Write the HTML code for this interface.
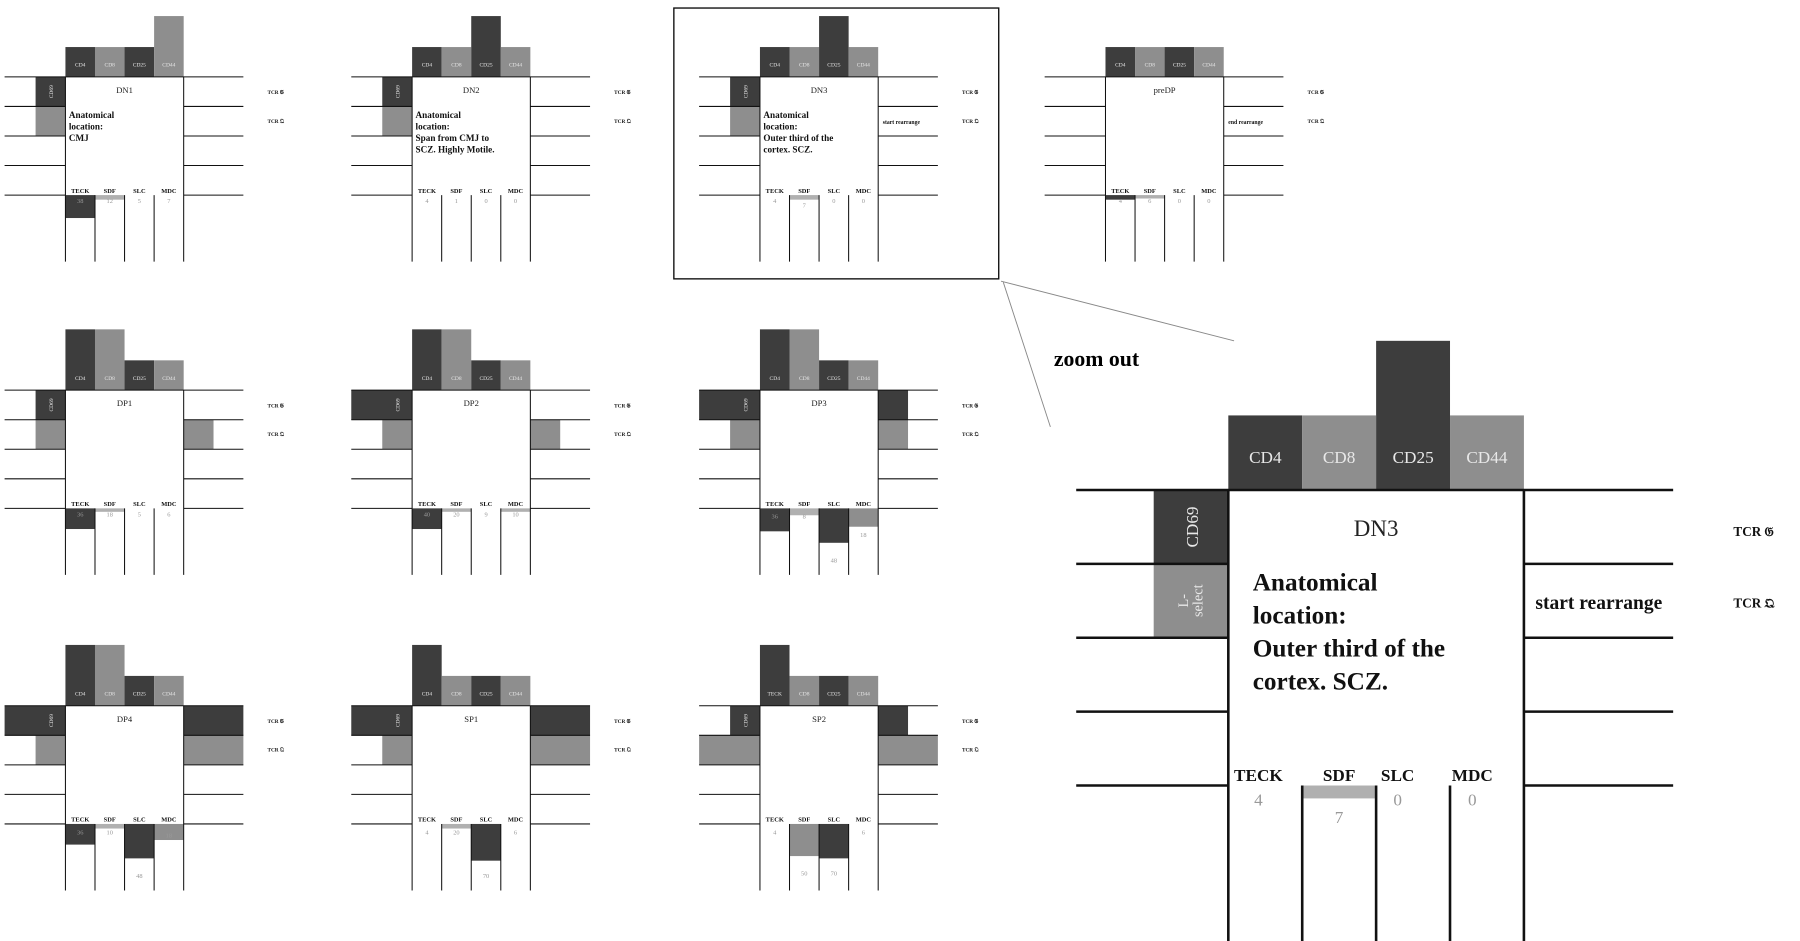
<!DOCTYPE html>
<html><head><meta charset="utf-8"><style>
html,body{margin:0;padding:0;background:#fff;width:1800px;height:941px;overflow:hidden}
svg{display:block}
text{font-family:"Liberation Serif",serif}
.ln{stroke:#111;stroke-width:0.9;fill:none}
.bl{fill:#e8e8e8;font-size:4.8px;text-anchor:middle}
.tt{font-size:7.5px;text-anchor:middle;fill:#222}
.an{font-size:8px;font-weight:bold;fill:#111}
.bt{font-size:5.6px;font-weight:bold;text-anchor:middle;fill:#111}
.nm{font-size:5.6px;text-anchor:middle;fill:#999}
.tc{font-size:4.6px;font-weight:bold;fill:#111}
.sr{font-size:6.8px;font-weight:bold;fill:#111}
.D{fill:#3d3d3d}.M{fill:#8e8e8e}.L{fill:#b0b0b0}
</style></head><body>
<svg width="1800" height="941" viewBox="0 0 1568 820" preserveAspectRatio="none" xmlns="http://www.w3.org/2000/svg">
<defs>
<path id="sk" class="ln" d="M-53 0H0M-53 25.75H0M-53 51.5H0M-53 77.25H0M-53 103H0M103 0H155M103 25.75H155M103 51.5H155M103 77.25H155M103 103H155M0 0V161M103 0V161M25.75 103V161M51.5 103V161M77.25 103V161M0 0H103"/>
</defs>

<!-- zoom frame -->
<rect x="587" y="7" width="283" height="236" fill="none" stroke="#111" stroke-width="1.2"/>
<path d="M872 245L1075 297M874 246L915 372" stroke="#888" stroke-width="0.8" fill="none"/>
<text x="918" y="319" style="font-size:19px;font-weight:bold;font-family:'Liberation Serif',serif">zoom out</text>

<!-- DN1 -->
<g transform="translate(57,67)">
<rect class="D" x="0" y="-26" width="25.75" height="26"/><rect class="M" x="25.75" y="-26" width="25.75" height="26"/><rect class="D" x="51.5" y="-26" width="25.75" height="26"/><rect class="M" x="77.25" y="-53" width="25.75" height="53"/>
<rect class="D" x="-26" y="0" width="26" height="25.75"/><rect class="M" x="-26" y="25.75" width="26" height="25.75"/>
<rect class="D" x="0" y="103" width="25.75" height="20"/><rect class="L" x="25.75" y="103" width="25.75" height="4"/>
<use href="#sk"/>
<text class="bl" x="12.9" y="-9">CD4</text><text class="bl" x="38.6" y="-9">CD8</text><text class="bl" x="64.4" y="-9">CD25</text><text class="bl" x="90.1" y="-9">CD44</text>
<text class="bl" transform="translate(-11,12.9) rotate(-90)">CD69</text>
<text class="tt" x="51.5" y="14">DN1</text>
<text class="an" x="3" y="36">Anatomical</text><text class="an" x="3" y="46">location:</text><text class="an" x="3" y="56">CMJ</text>
<text class="bt" x="12.9" y="101">TECK</text><text class="bt" x="38.6" y="101">SDF</text><text class="bt" x="64.4" y="101">SLC</text><text class="bt" x="90.1" y="101">MDC</text>
<text class="nm" x="12.9" y="110" fill="#ddd">38</text><text class="nm" x="38.6" y="110">12</text><text class="nm" x="64.4" y="110">5</text><text class="nm" x="90.1" y="110">7</text>
<text class="tc" x="176" y="15">TCR 𝔊</text><text class="tc" x="176" y="40">TCR 𝔔</text>
</g>

<!-- DN2 -->
<g transform="translate(359,67)">
<rect class="D" x="0" y="-26" width="25.75" height="26"/><rect class="M" x="25.75" y="-26" width="25.75" height="26"/><rect class="D" x="51.5" y="-53" width="25.75" height="53"/><rect class="M" x="77.25" y="-26" width="25.75" height="26"/>
<rect class="D" x="-26" y="0" width="26" height="25.75"/><rect class="M" x="-26" y="25.75" width="26" height="25.75"/>
<use href="#sk"/>
<text class="bl" x="12.9" y="-9">CD4</text><text class="bl" x="38.6" y="-9">CD8</text><text class="bl" x="64.4" y="-9">CD25</text><text class="bl" x="90.1" y="-9">CD44</text>
<text class="bl" transform="translate(-11,12.9) rotate(-90)">CD69</text>
<text class="tt" x="51.5" y="14">DN2</text>
<text class="an" x="3" y="36">Anatomical</text><text class="an" x="3" y="46">location:</text><text class="an" x="3" y="56">Span from CMJ to</text><text class="an" x="3" y="66">SCZ. Highly Motile.</text>
<text class="bt" x="12.9" y="101">TECK</text><text class="bt" x="38.6" y="101">SDF</text><text class="bt" x="64.4" y="101">SLC</text><text class="bt" x="90.1" y="101">MDC</text>
<text class="nm" x="12.9" y="110">4</text><text class="nm" x="38.6" y="110">1</text><text class="nm" x="64.4" y="110">0</text><text class="nm" x="90.1" y="110">0</text>
<text class="tc" x="176" y="15">TCR 𝔊</text><text class="tc" x="176" y="40">TCR 𝔔</text>
</g>

<!-- DN3 small -->
<g transform="translate(662,67)">
<rect class="D" x="0" y="-26" width="25.75" height="26"/><rect class="M" x="25.75" y="-26" width="25.75" height="26"/><rect class="D" x="51.5" y="-53" width="25.75" height="53"/><rect class="M" x="77.25" y="-26" width="25.75" height="26"/>
<rect class="D" x="-26" y="0" width="26" height="25.75"/><rect class="M" x="-26" y="25.75" width="26" height="25.75"/>
<rect class="L" x="25.75" y="103" width="25.75" height="4"/>
<use href="#sk"/>
<text class="bl" x="12.9" y="-9">CD4</text><text class="bl" x="38.6" y="-9">CD8</text><text class="bl" x="64.4" y="-9">CD25</text><text class="bl" x="90.1" y="-9">CD44</text>
<text class="bl" transform="translate(-11,12.9) rotate(-90)">CD69</text>
<text class="tt" x="51.5" y="14">DN3</text>
<text class="an" x="3" y="36">Anatomical</text><text class="an" x="3" y="46">location:</text><text class="an" x="3" y="56">Outer third of the</text><text class="an" x="3" y="66">cortex. SCZ.</text>
<text class="bt" x="12.9" y="101">TECK</text><text class="bt" x="38.6" y="101">SDF</text><text class="bt" x="64.4" y="101">SLC</text><text class="bt" x="90.1" y="101">MDC</text>
<text class="nm" x="12.9" y="110">4</text><text class="nm" x="38.6" y="114">7</text><text class="nm" x="64.4" y="110">0</text><text class="nm" x="90.1" y="110">0</text>
<text class="sr" x="107" y="41" style="font-size:5px">start rearrange</text>
<text class="tc" x="176" y="15">TCR 𝔊</text><text class="tc" x="176" y="40">TCR 𝔔</text>
</g>

<!-- preDP -->
<g transform="translate(963,67)">
<rect class="D" x="0" y="-26" width="25.75" height="26"/><rect class="M" x="25.75" y="-26" width="25.75" height="26"/><rect class="D" x="51.5" y="-26" width="25.75" height="26"/><rect class="M" x="77.25" y="-26" width="25.75" height="26"/>
<rect class="D" x="0" y="103" width="25.75" height="4"/><rect class="L" x="25.75" y="103" width="25.75" height="3"/>
<use href="#sk"/>
<text class="bl" x="12.9" y="-9">CD4</text><text class="bl" x="38.6" y="-9">CD8</text><text class="bl" x="64.4" y="-9">CD25</text><text class="bl" x="90.1" y="-9">CD44</text>
<text class="tt" x="51.5" y="14">preDP</text>
<text class="bt" x="12.9" y="101">TECK</text><text class="bt" x="38.6" y="101">SDF</text><text class="bt" x="64.4" y="101">SLC</text><text class="bt" x="90.1" y="101">MDC</text>
<text class="nm" x="12.9" y="110">4</text><text class="nm" x="38.6" y="110">6</text><text class="nm" x="64.4" y="110">0</text><text class="nm" x="90.1" y="110">0</text>
<text class="sr" x="107" y="41" style="font-size:5px">end rearrange</text>
<text class="tc" x="176" y="15">TCR 𝔊</text><text class="tc" x="176" y="40">TCR 𝔔</text>
</g>

<!-- DP1 -->
<g transform="translate(57,340)">
<rect class="D" x="0" y="-53" width="25.75" height="53"/><rect class="M" x="25.75" y="-53" width="25.75" height="53"/><rect class="D" x="51.5" y="-26" width="25.75" height="26"/><rect class="M" x="77.25" y="-26" width="25.75" height="26"/>
<rect class="D" x="-26" y="0" width="26" height="25.75"/><rect class="M" x="-26" y="25.75" width="26" height="25.75"/>
<rect class="M" x="103" y="25.75" width="26" height="25.75"/>
<rect class="D" x="0" y="103" width="25.75" height="18"/><rect class="L" x="25.75" y="103" width="25.75" height="3"/>
<use href="#sk"/>
<text class="bl" x="12.9" y="-9">CD4</text><text class="bl" x="38.6" y="-9">CD8</text><text class="bl" x="64.4" y="-9">CD25</text><text class="bl" x="90.1" y="-9">CD44</text>
<text class="bl" transform="translate(-11,12.9) rotate(-90)">CD69</text>
<text class="tt" x="51.5" y="14">DP1</text>
<text class="bt" x="12.9" y="101">TECK</text><text class="bt" x="38.6" y="101">SDF</text><text class="bt" x="64.4" y="101">SLC</text><text class="bt" x="90.1" y="101">MDC</text>
<text class="nm" x="12.9" y="110" fill="#ddd">36</text><text class="nm" x="38.6" y="110">18</text><text class="nm" x="64.4" y="110">5</text><text class="nm" x="90.1" y="110">6</text>
<text class="tc" x="176" y="15">TCR 𝔊</text><text class="tc" x="176" y="40">TCR 𝔔</text>
</g>

<!-- DP2 -->
<g transform="translate(359,340)">
<rect class="D" x="0" y="-53" width="25.75" height="53"/><rect class="M" x="25.75" y="-53" width="25.75" height="53"/><rect class="D" x="51.5" y="-26" width="25.75" height="26"/><rect class="M" x="77.25" y="-26" width="25.75" height="26"/>
<rect class="D" x="-53" y="0" width="53" height="25.75"/><rect class="M" x="-26" y="25.75" width="26" height="25.75"/>
<rect class="M" x="103" y="25.75" width="26" height="25.75"/>
<rect class="D" x="0" y="103" width="25.75" height="18"/><rect class="L" x="25.75" y="103" width="25.75" height="3"/><rect class="L" x="77.25" y="103" width="25.75" height="3"/>
<use href="#sk"/>
<text class="bl" x="12.9" y="-9">CD4</text><text class="bl" x="38.6" y="-9">CD8</text><text class="bl" x="64.4" y="-9">CD25</text><text class="bl" x="90.1" y="-9">CD44</text>
<text class="bl" transform="translate(-11,12.9) rotate(-90)">CD69</text>
<text class="tt" x="51.5" y="14">DP2</text>
<text class="bt" x="12.9" y="101">TECK</text><text class="bt" x="38.6" y="101">SDF</text><text class="bt" x="64.4" y="101">SLC</text><text class="bt" x="90.1" y="101">MDC</text>
<text class="nm" x="12.9" y="110" fill="#ddd">40</text><text class="nm" x="38.6" y="110">20</text><text class="nm" x="64.4" y="110">9</text><text class="nm" x="90.1" y="110">10</text>
<text class="tc" x="176" y="15">TCR 𝔊</text><text class="tc" x="176" y="40">TCR 𝔔</text>
</g>

<!-- DP3 -->
<g transform="translate(662,340)">
<rect class="D" x="0" y="-53" width="25.75" height="53"/><rect class="M" x="25.75" y="-53" width="25.75" height="53"/><rect class="D" x="51.5" y="-26" width="25.75" height="26"/><rect class="M" x="77.25" y="-26" width="25.75" height="26"/>
<rect class="D" x="-53" y="0" width="53" height="25.75"/><rect class="M" x="-26" y="25.75" width="26" height="25.75"/>
<rect class="D" x="103" y="0" width="26" height="25.75"/><rect class="M" x="103" y="25.75" width="26" height="25.75"/>
<rect class="D" x="0" y="103" width="25.75" height="20"/><rect class="L" x="25.75" y="103" width="25.75" height="6"/><rect class="D" x="51.5" y="103" width="25.75" height="30"/><rect class="M" x="77.25" y="103" width="25.75" height="16"/>
<use href="#sk"/>
<text class="bl" x="12.9" y="-9">CD4</text><text class="bl" x="38.6" y="-9">CD8</text><text class="bl" x="64.4" y="-9">CD25</text><text class="bl" x="90.1" y="-9">CD44</text>
<text class="bl" transform="translate(-11,12.9) rotate(-90)">CD69</text>
<text class="tt" x="51.5" y="14">DP3</text>
<text class="bt" x="12.9" y="101">TECK</text><text class="bt" x="38.6" y="101">SDF</text><text class="bt" x="64.4" y="101">SLC</text><text class="bt" x="90.1" y="101">MDC</text>
<text class="nm" x="12.9" y="112" fill="#ddd">36</text><text class="nm" x="38.6" y="112">8</text><text class="nm" x="64.4" y="150">48</text><text class="nm" x="90.1" y="128">18</text>
<text class="tc" x="176" y="15">TCR 𝔊</text><text class="tc" x="176" y="40">TCR 𝔔</text>
</g>

<!-- DP4 -->
<g transform="translate(57,615)">
<rect class="D" x="0" y="-53" width="25.75" height="53"/><rect class="M" x="25.75" y="-53" width="25.75" height="53"/><rect class="D" x="51.5" y="-26" width="25.75" height="26"/><rect class="M" x="77.25" y="-26" width="25.75" height="26"/>
<rect class="D" x="-53" y="0" width="53" height="25.75"/><rect class="M" x="-26" y="25.75" width="26" height="25.75"/>
<rect class="D" x="103" y="0" width="52" height="25.75"/><rect class="M" x="103" y="25.75" width="52" height="25.75"/>
<rect class="D" x="0" y="103" width="25.75" height="18"/><rect class="L" x="25.75" y="103" width="25.75" height="4"/><rect class="D" x="51.5" y="103" width="25.75" height="30"/><rect class="M" x="77.25" y="103" width="25.75" height="14"/>
<use href="#sk"/>
<text class="bl" x="12.9" y="-9">CD4</text><text class="bl" x="38.6" y="-9">CD8</text><text class="bl" x="64.4" y="-9">CD25</text><text class="bl" x="90.1" y="-9">CD44</text>
<text class="bl" transform="translate(-11,12.9) rotate(-90)">CD69</text>
<text class="tt" x="51.5" y="14">DP4</text>
<text class="bt" x="12.9" y="101">TECK</text><text class="bt" x="38.6" y="101">SDF</text><text class="bt" x="64.4" y="101">SLC</text><text class="bt" x="90.1" y="101">MDC</text>
<text class="nm" x="12.9" y="112" fill="#ddd">36</text><text class="nm" x="38.6" y="112">10</text><text class="nm" x="64.4" y="150">48</text><text class="nm" x="90.1" y="115">18</text>
<text class="tc" x="176" y="15">TCR 𝔊</text><text class="tc" x="176" y="40">TCR 𝔔</text>
</g>

<!-- SP1 -->
<g transform="translate(359,615)">
<rect class="D" x="0" y="-53" width="25.75" height="53"/><rect class="M" x="25.75" y="-26" width="25.75" height="26"/><rect class="D" x="51.5" y="-26" width="25.75" height="26"/><rect class="M" x="77.25" y="-26" width="25.75" height="26"/>
<rect class="D" x="-53" y="0" width="53" height="25.75"/><rect class="M" x="-26" y="25.75" width="26" height="25.75"/>
<rect class="D" x="103" y="0" width="52" height="25.75"/><rect class="M" x="103" y="25.75" width="52" height="25.75"/>
<rect class="L" x="25.75" y="103" width="25.75" height="4"/><rect class="D" x="51.5" y="103" width="25.75" height="32"/>
<use href="#sk"/>
<text class="bl" x="12.9" y="-9">CD4</text><text class="bl" x="38.6" y="-9">CD8</text><text class="bl" x="64.4" y="-9">CD25</text><text class="bl" x="90.1" y="-9">CD44</text>
<text class="bl" transform="translate(-11,12.9) rotate(-90)">CD69</text>
<text class="tt" x="51.5" y="14">SP1</text>
<text class="bt" x="12.9" y="101">TECK</text><text class="bt" x="38.6" y="101">SDF</text><text class="bt" x="64.4" y="101">SLC</text><text class="bt" x="90.1" y="101">MDC</text>
<text class="nm" x="12.9" y="112">4</text><text class="nm" x="38.6" y="112">20</text><text class="nm" x="64.4" y="150">70</text><text class="nm" x="90.1" y="112">6</text>
<text class="tc" x="176" y="15">TCR 𝔊</text><text class="tc" x="176" y="40">TCR 𝔔</text>
</g>

<!-- SP2 -->
<g transform="translate(662,615)">
<rect class="D" x="0" y="-53" width="25.75" height="53"/><rect class="M" x="25.75" y="-26" width="25.75" height="26"/><rect class="D" x="51.5" y="-26" width="25.75" height="26"/><rect class="M" x="77.25" y="-26" width="25.75" height="26"/>
<rect class="D" x="-26" y="0" width="26" height="25.75"/><rect class="M" x="-53" y="25.75" width="53" height="25.75"/>
<rect class="D" x="103" y="0" width="26" height="25.75"/><rect class="M" x="103" y="25.75" width="52" height="25.75"/>
<rect class="M" x="25.75" y="103" width="25.75" height="28"/><rect class="D" x="51.5" y="103" width="25.75" height="30"/>
<use href="#sk"/>
<text class="bl" x="12.9" y="-9">TECK</text><text class="bl" x="38.6" y="-9">CD8</text><text class="bl" x="64.4" y="-9">CD25</text><text class="bl" x="90.1" y="-9">CD44</text>
<text class="bl" transform="translate(-11,12.9) rotate(-90)">CD69</text>
<text class="tt" x="51.5" y="14">SP2</text>
<text class="bt" x="12.9" y="101">TECK</text><text class="bt" x="38.6" y="101">SDF</text><text class="bt" x="64.4" y="101">SLC</text><text class="bt" x="90.1" y="101">MDC</text>
<text class="nm" x="12.9" y="112">4</text><text class="nm" x="38.6" y="148">50</text><text class="nm" x="64.4" y="148">70</text><text class="nm" x="90.1" y="112">6</text>
<text class="tc" x="176" y="15">TCR 𝔊</text><text class="tc" x="176" y="40">TCR 𝔔</text>
</g>

<!-- DN3 big -->
<g transform="translate(1070,427) scale(2.5)">
<rect class="D" x="0" y="-26" width="25.75" height="26"/><rect class="M" x="25.75" y="-26" width="25.75" height="26"/><rect class="D" x="51.5" y="-52" width="25.75" height="52"/><rect class="M" x="77.25" y="-26" width="25.75" height="26"/>
<rect class="D" x="-26" y="0" width="26" height="25.75"/><rect class="M" x="-26" y="25.75" width="26" height="25.75"/>
<rect class="L" x="25.75" y="103" width="25.75" height="4.5"/>
<use href="#sk" transform="scale(1)" style="stroke-width:0.8"/>
<text class="bl" x="12.9" y="-9.5" style="font-size:6px">CD4</text><text class="bl" x="38.6" y="-9.5" style="font-size:6px">CD8</text><text class="bl" x="64.4" y="-9.5" style="font-size:6px">CD25</text><text class="bl" x="90.1" y="-9.5" style="font-size:6px">CD44</text>
<text class="bl" style="font-size:6px" transform="translate(-10.5,12.9) rotate(-90)">CD69</text>
<text class="bl" style="font-size:5px" transform="translate(-14,38.6) rotate(-90)">L-</text>
<text class="bl" style="font-size:5px" transform="translate(-9,38.6) rotate(-90)">select</text>
<text class="tt" x="51.5" y="16" style="font-size:8px">DN3</text>
<text class="an" x="8.5" y="35" style="font-size:8.8px">Anatomical</text><text class="an" x="8.5" y="46.5" style="font-size:8.8px">location:</text><text class="an" x="8.5" y="58" style="font-size:8.8px">Outer third of the</text><text class="an" x="8.5" y="69.5" style="font-size:8.8px">cortex. SCZ.</text>
<text class="bt" x="10.5" y="101.5" style="font-size:6px">TECK</text><text class="bt" x="38.6" y="101.5" style="font-size:6px">SDF</text><text class="bt" x="59" y="101.5" style="font-size:6px">SLC</text><text class="bt" x="85" y="101.5" style="font-size:6px">MDC</text>
<text class="nm" x="10.5" y="110" style="font-size:6px">4</text><text class="nm" x="38.6" y="116" style="font-size:6px">7</text><text class="nm" x="59" y="110" style="font-size:6px">0</text><text class="nm" x="85" y="110" style="font-size:6px">0</text>
<text class="sr" x="107" y="41.5">start rearrange</text>
<text class="tc" x="176" y="16">TCR 𝔊</text><text class="tc" x="176" y="41">TCR 𝔔</text>
</g>
</svg>
</body></html>
